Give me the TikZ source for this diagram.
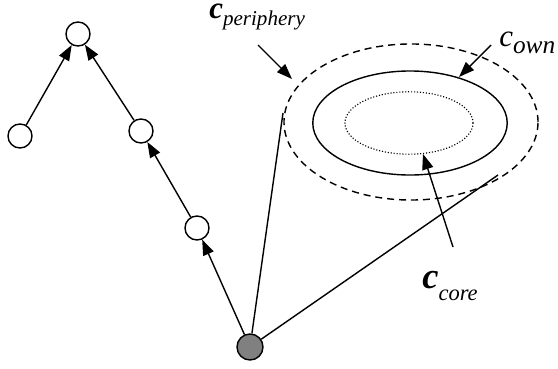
\documentclass[tikz,border=0pt]{standalone}
\usepackage{fontspec}
\setmainfont{Liberation Serif}
\newfontfamily\lblfont{Liberation Serif}
\usepackage{tikz}
\usetikzlibrary{arrows.meta,positioning}

\begin{document}
\begin{tikzpicture}[
  x=0.025cm,y=-0.025cm,
  vtx/.style={circle,draw=black,line width=1pt,fill=white,inner sep=0pt,minimum size=0.6cm},
  rootvtx/.style={vtx,fill=black!50,minimum size=0.65cm},
  lbl/.style={inner sep=0pt,anchor=base west,font=\lblfont\itshape},
  arr/.style={-{Triangle[length=11pt,width=8pt]},line width=1pt},
  edge/.style={line width=1pt}
]
  \useasboundingbox (0,0) rectangle (558,368);

  % tree
  \node[vtx] (top) at (78,34) {};
  \node[vtx] (left) at (20,136) {};
  \node[vtx] (mid) at (141,131) {};
  \node[vtx] (low) at (197,228) {};
  \node[rootvtx] (root) at (250,347) {};

  \draw[arr] (left) -- (top);
  \draw[arr] (mid) -- (top);
  \draw[arr] (low) -- (mid);
  \draw[arr] (root) -- (low);

  % regions
  \draw[line width=1pt,dash pattern=on 5pt off 3.5pt] (411,122) ellipse [x radius=3.175cm,y radius=1.95cm];
  \draw[line width=1pt] (410,123) ellipse [x radius=2.43cm,y radius=1.3cm];
  \draw[line width=0.8pt,dash pattern=on 0.8pt off 1.3pt] (409,123) ellipse [x radius=1.6cm,y radius=0.78cm];

  \coordinate (tanA) at (283,113);
  \coordinate (tanB) at (498,175);
  \draw[edge] (root) -- (tanA);
  \draw[edge] (root) -- (tanB);

  % labels
  \node[lbl] (cper) at (209,19) {\fontsize{22}{22}\selectfont\bfseries c\raisebox{-4.5pt}{\mdseries\fontsize{15}{15}\selectfont periphery}};
  \node[lbl] (cown) at (499,46) {\fontsize{22}{22}\selectfont c\raisebox{-5.5pt}{\fontsize{18}{18}\selectfont own}};
  \node[lbl] (ccore) at (422,288) {\fontsize{26}{26}\selectfont\bfseries c\raisebox{-9pt}{\mdseries\fontsize{16}{16}\selectfont core}};

  \coordinate (perS) at (258,45);
  \coordinate (perE) at (292,79);
  \coordinate (ownS) at (491,45);
  \coordinate (ownE) at (459,77);
  \coordinate (coreS) at (453,247);
  \coordinate (coreE) at (423,154);
  \draw[arr] (perS) -- (perE);
  \draw[arr] (ownS) -- (ownE);
  \draw[arr] (coreS) -- (coreE);
\end{tikzpicture}
\end{document}
